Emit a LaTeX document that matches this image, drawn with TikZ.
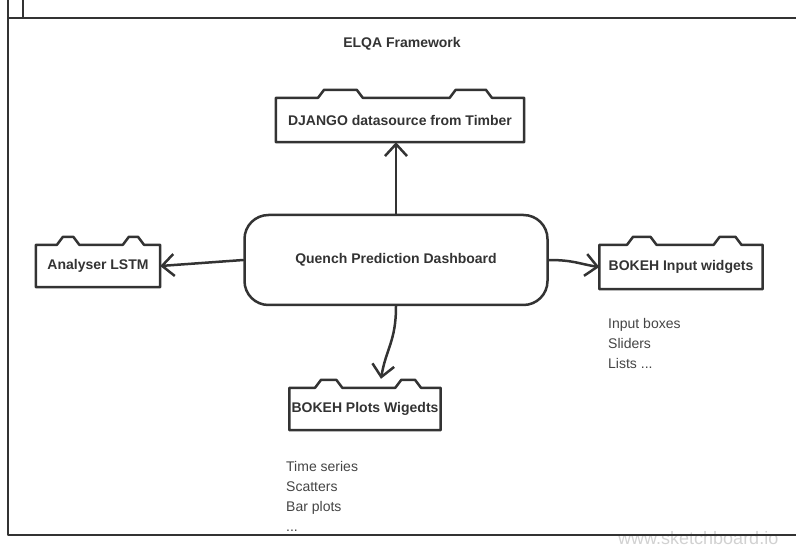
\documentclass[tikz,border=0pt]{standalone}
\usepackage{fontspec}
\setmainfont{Liberation Sans}
\usetikzlibrary{calc,arrows.meta}

\definecolor{ink}{HTML}{333333}
\definecolor{listgray}{HTML}{444444}

% outline of a box with two tabs on its top edge
\newcommand{\tabframe}[1]{%
  \draw[sketch] (#1.south west) -- (#1.north west)
    -- ($(#1.north west)!0.17!(#1.north east)$) -- ++(6,-8)
    -- ($(#1.north west)!0.35!(#1.north east)+(-6,-8)$)
    -- ($(#1.north west)!0.35!(#1.north east)$)
    -- ($(#1.north west)!0.70!(#1.north east)$) -- ++(6,-8)
    -- ($(#1.north west)!0.87!(#1.north east)+(-6,-8)$)
    -- ($(#1.north west)!0.87!(#1.north east)$)
    -- (#1.north east) -- (#1.south east) -- cycle;}

\begin{document}
\begin{tikzpicture}[x=1pt,y=-1pt,
  sketch/.style={draw=ink,line width=2.5pt,line join=round,line cap=round},
  tab node/.style={inner sep=0pt,font=\fontsize{14}{16}\selectfont\bfseries,text=ink},
  dash node/.style={sketch,rounded corners=24pt,minimum width=303pt,minimum height=90pt,
    font=\fontsize{14}{16}\selectfont\bfseries,text=ink},
  arr/.style={sketch,-{Straight Barb[length=12pt,width=22pt]}},
  list/.style={anchor=west,inner sep=0pt,align=left,text=listgray,
    font=\fontsize{14}{20}\selectfont}]

  \useasboundingbox (0,0) rectangle (796,548);

  % watermark, behind the frame
  \node[anchor=base west,inner sep=0pt,text=black!18,font=\fontsize{18}{18}\selectfont] (mark) at (618,544) {www.sketchboard.io};

  % outer frame
  \draw[sketch,line cap=butt] (8,0) -- (8,535) -- (800,535);
  \draw[sketch,line cap=butt] (8,18) -- (800,18);
  \draw[sketch,line cap=butt] (23,0) -- (23,18);

  \node[tab node] (title) at (402,44) {ELQA Framework};

  \node[dash node] (dash) at (396,260) {Quench Prediction Dashboard};

  \node[tab node,minimum width=248pt,minimum height=44pt] (django) at (400,120) {DJANGO datasource from Timber};
  \node[tab node,minimum width=124pt,minimum height=42pt] (lstm) at (98,266) {Analyser LSTM};
  \node[tab node,minimum width=163pt,minimum height=44pt] (input) at (681,267) {BOKEH Input widgets};
  \node[tab node,minimum width=151pt,minimum height=42pt] (plots) at (365,409) {BOKEH Plots Wigedts};

  \tabframe{django}
  \tabframe{lstm}
  \tabframe{input}
  \tabframe{plots}

  \node[list] (inlist) at (608,343) {Input boxes\\Sliders\\Lists ...};
  \node[list] (plotlist) at (286,496) {Time series\\Scatters\\Bar plots\\...};

  \coordinate (ptip) at ($(plots.north)+(16,-9)$);

  \draw[arr] (dash.north) -- (dash.north |- django.south);
  \draw[arr] (dash.west) -- (lstm.east);
  \draw[arr] (dash.east) .. controls +(25,0) and +(-20,-3) .. (input.west);
  \draw[arr] (dash.south) .. controls +(0,35) and +(5,-30) .. (ptip);
\end{tikzpicture}
\end{document}
